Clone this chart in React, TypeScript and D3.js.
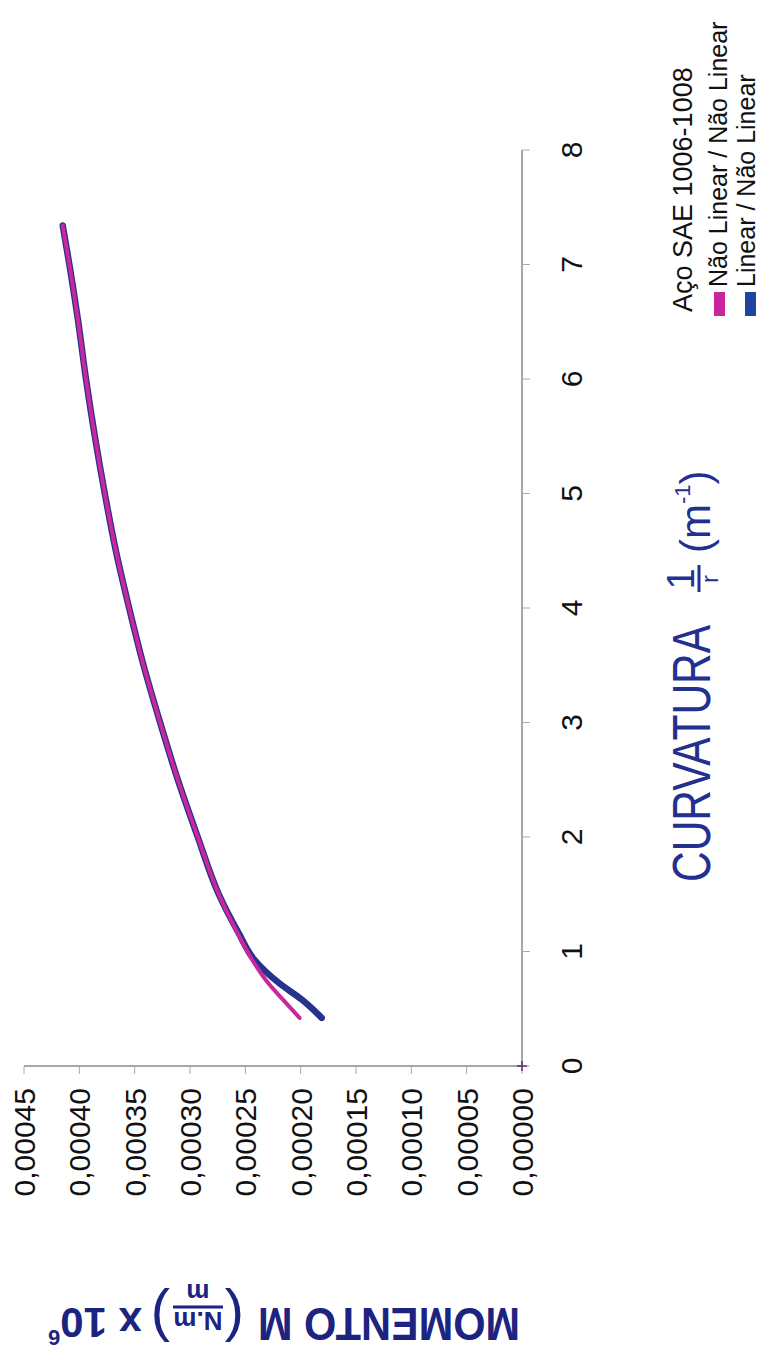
import React from "react";
import * as d3 from "d3";

// curvature 1/r (m^-1) and moment values
const curvature = [0.42, 0.58, 0.72, 0.93, 1.16, 1.5, 2.0, 2.5, 3.0, 3.5, 4.0, 4.5, 5.0, 5.5, 6.0, 6.5, 7.0, 7.34];
const naoLinear = [0.000201, 0.000216, 0.000229, 0.000244, 0.000257, 0.000274, 0.000293, 0.000311, 0.000327, 0.000342, 0.000355, 0.000367, 0.000377, 0.000386, 0.000394, 0.000401, 0.000409, 0.000415];
const linear = [0.000181, 0.000199, 0.000219, 0.000242, 0.000256, 0.000274, 0.000293, 0.000311, 0.000327, 0.000342, 0.000355, 0.000367, 0.000377, 0.000386, 0.000394, 0.000401, 0.000409, 0.000415];
const xTicks = [0, 1, 2, 3, 4, 5, 6, 7, 8];
const yTicks = [0, 0.00005, 0.0001, 0.00015, 0.0002, 0.00025, 0.0003, 0.00035, 0.0004, 0.00045];
const legendTitle = "Aço SAE 1006-1008";
const seriesNames = ["Não Linear / Não Linear", "Linear / Não Linear"];
const lineColors = ["#c8289b", "#26328c"];
const swatchColors = ["#c8259a", "#2045a0"];

const FONT = "'Liberation Sans', Arial, sans-serif";
const NAVY = "#22308f";

export default function App() {
  // chart is drawn upright (1359 x 761) then turned a quarter to the left
  const x = d3.scaleLinear().domain([0, 8]).range([293, 1209]);
  const y = d3.scaleLinear().domain([0, 0.00045]).range([522, 24]);

  const line = d3
    .line<number>()
    .x((_, i) => x(curvature[i]))
    .y((v) => y(v))
    .curve(d3.curveMonotoneX);

  const fmt = (v: number) => d3.format(".5f")(v).replace(".", ",");

  return (
    <svg
      width={761}
      height={1359}
      style={{ position: "absolute", left: 0, top: 0, background: "#fff" }}
      fontFamily={FONT}
    >
      <rect width={761} height={1359} fill="#fff" />
      <g transform="translate(0,1359) rotate(-90)">
        {/* x axis (curvature) */}
        <line x1={x(0)} x2={x(8)} y1={522} y2={522} stroke="#8a8a8a" strokeWidth={1.5} />
        {xTicks.map((t) => (
          <g key={"xt" + t}>
            <line x1={x(t)} x2={x(t)} y1={522} y2={530} stroke="#aaa" strokeWidth={1} />
            <text x={x(t)} y={582} textAnchor="middle" fontSize={30} fill="#111">
              {t}
            </text>
          </g>
        ))}

        {/* y axis (moment) */}
        <line x1={293} x2={293} y1={y(0.00045)} y2={y(0)} stroke="#8a8a8a" strokeWidth={1.5} />
        {yTicks.map((t) => (
          <g key={"yt" + t}>
            <line x1={285} x2={293} y1={y(t)} y2={y(t)} stroke="#aaa" strokeWidth={1} />
            <text x={271} y={y(t) + 11} textAnchor="end" fontSize={30} fill="#111">
              {fmt(t)}
            </text>
          </g>
        ))}
        {/* small cross at the origin */}
        <line x1={x(0) - 5} x2={x(0) + 5} y1={y(0)} y2={y(0)} stroke="#6a2a7a" strokeWidth={1.5} />
        <line x1={x(0)} x2={x(0)} y1={y(0) - 5} y2={y(0) + 5} stroke="#6a2a7a" strokeWidth={1.5} />

        {/* curves: blue under, pink on top */}
        <path d={line(linear) || ""} fill="none" stroke={lineColors[1]} strokeWidth={6.5} strokeLinecap="round" />
        <path d={line(naoLinear) || ""} fill="none" stroke={lineColors[0]} strokeWidth={4} strokeLinecap="round" />

        {/* x title */}
        <text x={477} y={710} fontSize={54} fill={NAVY} textLength={257} lengthAdjust="spacingAndGlyphs">
          CURVATURA
        </text>
        <text x={780} y={694} fontSize={38} fill={NAVY} textAnchor="middle">
          1
        </text>
        <line x1={767} x2={794} y1={699} y2={699} stroke={NAVY} strokeWidth={3} />
        <text x={780} y={718} fontSize={24} fill={NAVY} textAnchor="middle">
          r
        </text>
        <text x={806} y={710} fontSize={42} fill={NAVY}>
          (m
          <tspan fontSize={22} dy={-20}>-1</tspan>
          <tspan dy={20}>)</tspan>
        </text>

        {/* y title, reads upward */}
        <g transform="translate(51,520) rotate(-90)" fill="#1c2380" fontWeight="bold">
          <text x={0} y={0} fontSize={46} textLength={262} lengthAdjust="spacingAndGlyphs">
            MOMENTO M
          </text>
          <text x={276} y={8} fontSize={58} fontWeight="normal">
            (
          </text>
          <text x={322} y={-4} fontSize={26} textAnchor="middle">
            N.m
          </text>
          <line x1={297} x2={347} y1={1} y2={1} stroke="#1c2380" strokeWidth={3} />
          <text x={322} y={24} fontSize={26} textAnchor="middle">
            m
          </text>
          <text x={350} y={8} fontSize={58} fontWeight="normal">
            )
          </text>
          <text x={378} y={0} fontSize={42}>
            x 10
            <tspan fontSize={22} dy={-22}>6</tspan>
          </text>
        </g>

        {/* legend */}
        <text x={1047} y={692} fontSize={27} fill="#111">
          {legendTitle}
        </text>
        {seriesNames.map((name, i) => (
          <g key={name}>
            <rect x={1043} y={714 + i * 31} width={24} height={11} fill={swatchColors[i]} />
            <text x={1072} y={727 + i * 28} fontSize={25} fill="#111">
              {name}
            </text>
          </g>
        ))}
      </g>
    </svg>
  );
}
